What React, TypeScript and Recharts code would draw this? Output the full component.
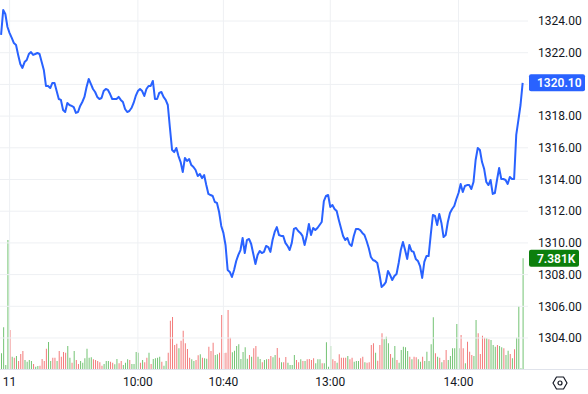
import React from "react";
import {
  ComposedChart,
  Line,
  Bar,
  Cell,
  XAxis,
  YAxis,
  LabelList,
  ReferenceLine,
} from "recharts";

// 1-minute closes, first visible bar to 14:30
const prices = [
  1323.12, 1324.69, 1324.44, 1323.62, 1323.24, 1322.93, 1322.61, 1322.49, 1321.86, 1321.29,
  1321.04, 1321.41, 1321.54, 1321.92, 1322.04, 1321.86, 1321.92, 1321.98, 1321.92, 1321.41,
  1320.91, 1319.9, 1319.9, 1319.77, 1320.09, 1320.09, 1319.58, 1319.08, 1319.02, 1318.39,
  1318.26, 1318.83, 1318.7, 1318.64, 1318.57, 1318.2, 1318.26, 1318.64, 1318.89, 1319.21,
  1319.84, 1320.34, 1320.03, 1319.71, 1319.52, 1319.21, 1319.08, 1319.14, 1319.58, 1319.71,
  1319.65, 1319.39, 1319.08, 1319.08, 1319.08, 1319.21, 1319.02, 1318.89, 1318.45, 1318.26,
  1318.32, 1318.51, 1318.83, 1319.27, 1319.58, 1319.71, 1319.58, 1319.27, 1319.71, 1319.9,
  1319.9, 1320.22, 1319.08, 1319.08, 1319.46, 1319.52, 1319.21, 1319.02, 1318.7, 1317.25,
  1315.86, 1315.73, 1315.99, 1315.48, 1315.1, 1314.47, 1315.36, 1315.17, 1315.29, 1314.91,
  1314.79, 1314.6, 1314.22, 1314.35, 1314.09, 1314.28, 1313.65, 1313.09, 1313.02, 1312.96,
  1312.58, 1312.52, 1311.95, 1311.07, 1310.63, 1309.87, 1308.29, 1308.17, 1307.85, 1308.29,
  1308.86, 1309.24, 1309.55, 1310.31, 1309.36, 1310.18, 1310.25, 1309.93, 1309.3, 1308.67,
  1309.24, 1309.49, 1309.36, 1309.43, 1309.81, 1309.74, 1309.43, 1310.18, 1310.69, 1311.0,
  1310.5, 1310.44, 1310.44, 1310.0, 1309.81, 1309.55, 1310.0, 1310.88, 1310.94, 1310.75,
  1310.63, 1310.44, 1309.87, 1310.44, 1311.19, 1310.5, 1310.94, 1310.81, 1310.94, 1311.13,
  1311.32, 1312.64, 1312.96, 1313.02, 1312.27, 1312.39, 1312.14, 1312.01, 1311.45, 1310.94,
  1310.44, 1310.18, 1310.31, 1309.93, 1309.81, 1310.44, 1310.88, 1310.88, 1310.81, 1310.63,
  1310.5, 1310.12, 1309.68, 1309.11, 1308.92, 1308.86, 1308.73, 1308.04, 1307.22, 1307.34,
  1307.53, 1308.23, 1307.97, 1307.66, 1307.91, 1308.04, 1308.73, 1309.55, 1310.06, 1309.55,
  1308.99, 1309.87, 1309.49, 1309.43, 1308.99, 1308.86, 1308.54, 1307.79, 1308.8, 1309.17,
  1309.17, 1310.5, 1311.76, 1311.7, 1311.13, 1311.83, 1311.26, 1310.37, 1310.5, 1311.32,
  1311.89, 1312.14, 1312.33, 1312.77, 1313.15, 1313.72, 1313.21, 1313.59, 1313.65, 1313.65,
  1313.4, 1313.84, 1315.23, 1315.99, 1315.86, 1315.1, 1314.66, 1313.84, 1313.65, 1313.97,
  1313.09, 1313.15, 1313.97, 1314.73, 1314.03, 1314.03, 1313.97, 1313.72, 1314.16, 1314.03,
  1314.03, 1316.81, 1317.75, 1318.7, 1320.1,
];

const volumes = [
  1047, 2780, 267, 8600, 2600, 820, 753, 867, 533, 1000,
  1200, 600, 487, 600, 533, 333, 153, 200, 220, 667,
  533, 1353, 1800, 533, 753, 753, 533, 1200, 820, 1133,
  1087, 1533, 753, 420, 1200, 600, 333, 533, 420, 713,
  1353, 753, 780, 647, 600, 533, 447, 220, 333, 533,
  533, 487, 420, 313, 667, 380, 533, 267, 420, 647,
  600, 333, 333, 1133, 1087, 420, 600, 447, 753, 1087,
  333, 667, 713, 753, 820, 487, 220, 533, 1087, 3220,
  3467, 1600, 1687, 1380, 1887, 2553, 1713, 1333, 753, 647,
  533, 600, 913, 980, 753, 713, 687, 1487, 1200, 1753,
  933, 980, 1087, 3600, 1067, 1087, 3933, 2087, 1113, 1220,
  1533, 1647, 667, 1133, 1447, 687, 933, 820, 1380, 1533,
  820, 667, 447, 600, 647, 667, 867, 780, 933, 1400,
  753, 447, 447, 800, 420, 267, 267, 933, 600, 447,
  647, 533, 533, 647, 667, 600, 713, 380, 647, 647,
  380, 380, 1780, 153, 1533, 647, 533, 420, 980, 753,
  753, 753, 867, 647, 753, 487, 533, 533, 713, 820,
  447, 420, 447, 1600, 1713, 1087, 553, 1600, 2380, 1980,
  2153, 1713, 1000, 753, 1533, 600, 420, 1267, 1487, 1447,
  1200, 820, 647, 820, 780, 647, 487, 820, 533, 1153,
  533, 1647, 3447, 1047, 820, 753, 447, 600, 1267, 600,
  867, 1380, 1380, 3000, 1380, 2267, 1380, 380, 1820, 1153,
  933, 867, 3267, 2380, 1000, 2220, 2087, 2047, 1980, 1933,
  1600, 1487, 1600, 1533, 1447, 1380, 933, 1220, 1000, 713,
  1313, 2087, 4200, 47, 7381,
];

// 1 = up bar (green), 0 = down bar (red)
const volUp = [
  1, 1, 1, 1, 0, 1, 0, 1, 0, 0,
  0, 1, 1, 1, 1, 0, 1, 1, 0, 0,
  0, 0, 1, 1, 0, 0, 1, 0, 0, 0,
  0, 1, 1, 0, 1, 0, 0, 1, 1, 1,
  1, 1, 1, 0, 0, 0, 0, 0, 1, 1,
  1, 0, 0, 1, 1, 0, 0, 1, 1, 1,
  0, 1, 1, 1, 1, 0, 1, 0, 0, 1,
  0, 1, 1, 1, 1, 0, 1, 1, 0, 0,
  0, 0, 0, 1, 0, 0, 0, 0, 0, 1,
  1, 0, 0, 1, 0, 1, 1, 0, 0, 0,
  1, 1, 0, 0, 0, 0, 0, 0, 1, 1,
  1, 1, 1, 1, 1, 1, 0, 1, 0, 0,
  1, 1, 0, 1, 1, 0, 0, 1, 1, 0,
  0, 1, 0, 0, 1, 1, 1, 1, 0, 0,
  1, 0, 1, 0, 0, 0, 0, 1, 1, 1,
  0, 1, 1, 1, 1, 0, 0, 1, 0, 0,
  0, 0, 1, 0, 0, 1, 1, 1, 0, 0,
  1, 0, 0, 0, 0, 1, 0, 0, 0, 1,
  1, 1, 0, 1, 1, 0, 1, 1, 1, 1,
  1, 0, 1, 0, 0, 1, 1, 0, 1, 1,
  1, 1, 1, 0, 1, 0, 1, 0, 0, 1,
  1, 1, 1, 1, 1, 0, 0, 1, 0, 0,
  0, 1, 1, 0, 0, 0, 0, 1, 0, 1,
  1, 1, 0, 1, 1, 0, 1, 1, 0, 1,
  0, 1, 1, 1, 1,
];

const tickTimes = ["09:00", "10:00", "10:40", "13:00", "14:00"];
const tickTexts = ["11", "10:00", "10:40", "13:00", "14:00"];
const priceTicks = [1304, 1306, 1308, 1310, 1312, 1314, 1316, 1318, 1320, 1322, 1324];

const SLOTS = 247; // two empty slots on the right edge
const FONT = "Roboto, 'Liberation Sans', sans-serif";
const BLUE = "#2962ff";
const UP = "#73c373";
const DOWN = "#f37b7b";
const GRID = "#eef0f3";

function timeAt(i: number) {
  let m = 9 * 60 + (i - 4);
  if (i - 4 >= 150) m += 90; // lunch break 11:30-13:00
  const hh = String(Math.floor(m / 60)).padStart(2, "0");
  const mm = String(m % 60).padStart(2, "0");
  return `${hh}:${mm}`;
}

const data = Array.from({ length: SLOTS }, (_, i) => ({
  t: timeAt(i),
  price: i < prices.length ? prices[i] : null,
  vol: i < volumes.length ? volumes[i] : null,
}));

const last = prices.length - 1;

// tag on the price scale at the level of the last value
function scaleTag(fill: string, w: number, fmt: (v: number) => string) {
  return (p: any) => {
    if (p.index !== last) return null;
    const y = Number(p.y);
    return (
      <g>
        <rect x={529} y={y - 8.5} width={w} height={17} rx={2} fill={fill} />
        <text x={537} y={y + 4.5} fill="#fff" fontSize={12} fontWeight={600} fontFamily={FONT}>
          {fmt(Number(p.value))}
        </text>
      </g>
    );
  };
}

function SettingsIcon() {
  return (
    <svg
      width={16}
      height={16}
      viewBox="0 0 16 16"
      style={{ position: "absolute", left: 552, top: 375 }}
    >
      <polygon
        points="4.5,2 11.5,2 15,8 11.5,14 4.5,14 1,8"
        fill="none"
        stroke="#131722"
        strokeWidth={1.2}
        strokeLinejoin="round"
      />
      <circle cx={8} cy={8} r={2} fill="none" stroke="#131722" strokeWidth={1.2} />
    </svg>
  );
}

export default function App() {
  return (
    <div
      style={{
        position: "absolute",
        left: 0,
        top: 0,
        width: 588,
        height: 394,
        background: "#fff",
        fontFamily: FONT,
      }}
    >
      <ComposedChart
        width={588}
        height={394}
        data={data}
        margin={{ top: 0, right: 0, bottom: 0, left: 0 }}
      >
        {priceTicks.map((v) => (
          <ReferenceLine key={v} yAxisId="p" y={v} stroke={GRID} strokeWidth={1} />
        ))}
        {tickTimes.map((t) => (
          <ReferenceLine key={t} yAxisId="p" x={t} stroke={GRID} strokeWidth={1} />
        ))}
        <XAxis
          dataKey="t"
          ticks={tickTimes}
          interval={0}
          height={25}
          tickLine={false}
          axisLine={false}
          tickFormatter={(v: string) => tickTexts[tickTimes.indexOf(v)] ?? v}
          tick={{ fill: "#131722", fontSize: 12, fontFamily: FONT }}
        />
        <YAxis
          yAxisId="p"
          orientation="right"
          width={60}
          domain={[1302.044, 1325.325]}
          ticks={priceTicks}
          allowDataOverflow
          axisLine={false}
          tickLine={false}
          tickMargin={4}
          tickFormatter={(v: number) => v.toFixed(2)}
          tick={{ fill: "#131722", fontSize: 12, fontFamily: FONT, textAnchor: "start" }}
        />
        <YAxis yAxisId="v" hide domain={[0, 24600]} />
        <Bar yAxisId="v" dataKey="vol" barSize={1} isAnimationActive={false}>
          {data.map((_, i) => (
            <Cell key={i} fill={volUp[i] ? UP : DOWN} />
          ))}
          <LabelList
            dataKey="vol"
            content={scaleTag("#0c7f0c", 50, (v) => `${(v / 1000).toFixed(3)}K`)}
          />
        </Bar>
        <Line
          yAxisId="p"
          dataKey="price"
          type="linear"
          stroke={BLUE}
          strokeWidth={2}
          strokeLinejoin="round"
          dot={false}
          activeDot={false}
          isAnimationActive={false}
        >
          <LabelList dataKey="price" content={scaleTag(BLUE, 56, (v) => v.toFixed(2))} />
        </Line>
      </ComposedChart>
      {/* bottom border of the pane runs under the price scale too */}
      <div
        style={{
          position: "absolute",
          left: 0,
          top: 369,
          width: 588,
          height: 1,
          background: "#e0e3eb",
        }}
      />
      <SettingsIcon />
    </div>
  );
}
